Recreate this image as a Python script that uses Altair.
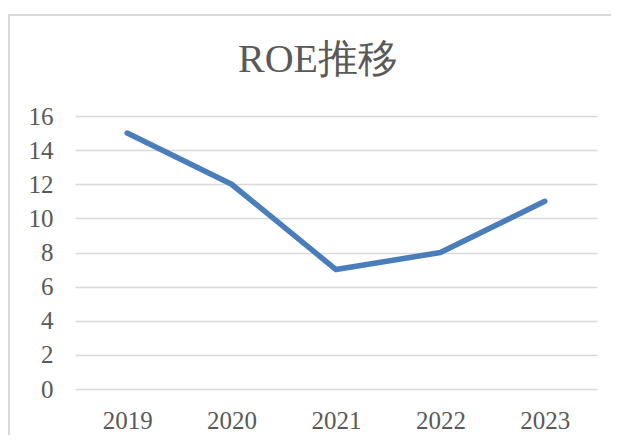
import altair as alt
import pandas as pd

years = ["2019", "2020", "2021", "2022", "2023"]
roe = [15, 12, 7, 8, 11]
y_ticks = [0, 2, 4, 6, 8, 10, 12, 14, 16]
title_text = ["ROE推移"]

df = pd.DataFrame({"year": years, "roe": roe})

TEXT = "#595959"

border = alt.Chart(alt.Data(values=[{}])).mark_rect(
    fillOpacity=0, fill="white", stroke="#d9d9d9", strokeWidth=2
).encode(
    x=alt.value(-66), x2=alt.value(560), y=alt.value(-101), y2=alt.value(420)
)

title = alt.Chart(alt.Data(values=[{"t": t} for t in title_text])).mark_text(
    font="serif", fontSize=40, color=TEXT, align="center", baseline="alphabetic"
).encode(
    text="t:N", x=alt.value(243), y=alt.value(-44)
)

line = alt.Chart(df).mark_line(
    color="#4a7ebb", strokeWidth=5.5, strokeCap="round", strokeJoin="round"
).encode(
    x=alt.X("year:N", sort=years, title=None,
            scale=alt.Scale(type="point", padding=0.5),
            axis=alt.Axis(labelAngle=0, domain=False, ticks=False, grid=False,
                          labelPadding=19, labelFontSize=25, labelFont="Times New Roman",
                          labelColor=TEXT)),
    y=alt.Y("roe:Q", title=None,
            scale=alt.Scale(domain=[0, 16], nice=False, zero=True),
            axis=alt.Axis(values=y_ticks, domain=False, ticks=False, grid=True,
                          gridColor="#d9d9d9", gridWidth=1.5,
                          labelPadding=22, labelFontSize=25, labelFont="serif",
                          labelColor=TEXT)),
)

chart = alt.layer(border, line, title).properties(
    width=522, height=273,
    autosize=alt.AutoSizeParams(type="none"),
    padding={"left": 67, "top": 108, "right": 14, "bottom": 46},
).configure(background="white").configure_view(strokeWidth=0)

chart.save("out.html", embed_options={"renderer": "svg", "actions": False})
